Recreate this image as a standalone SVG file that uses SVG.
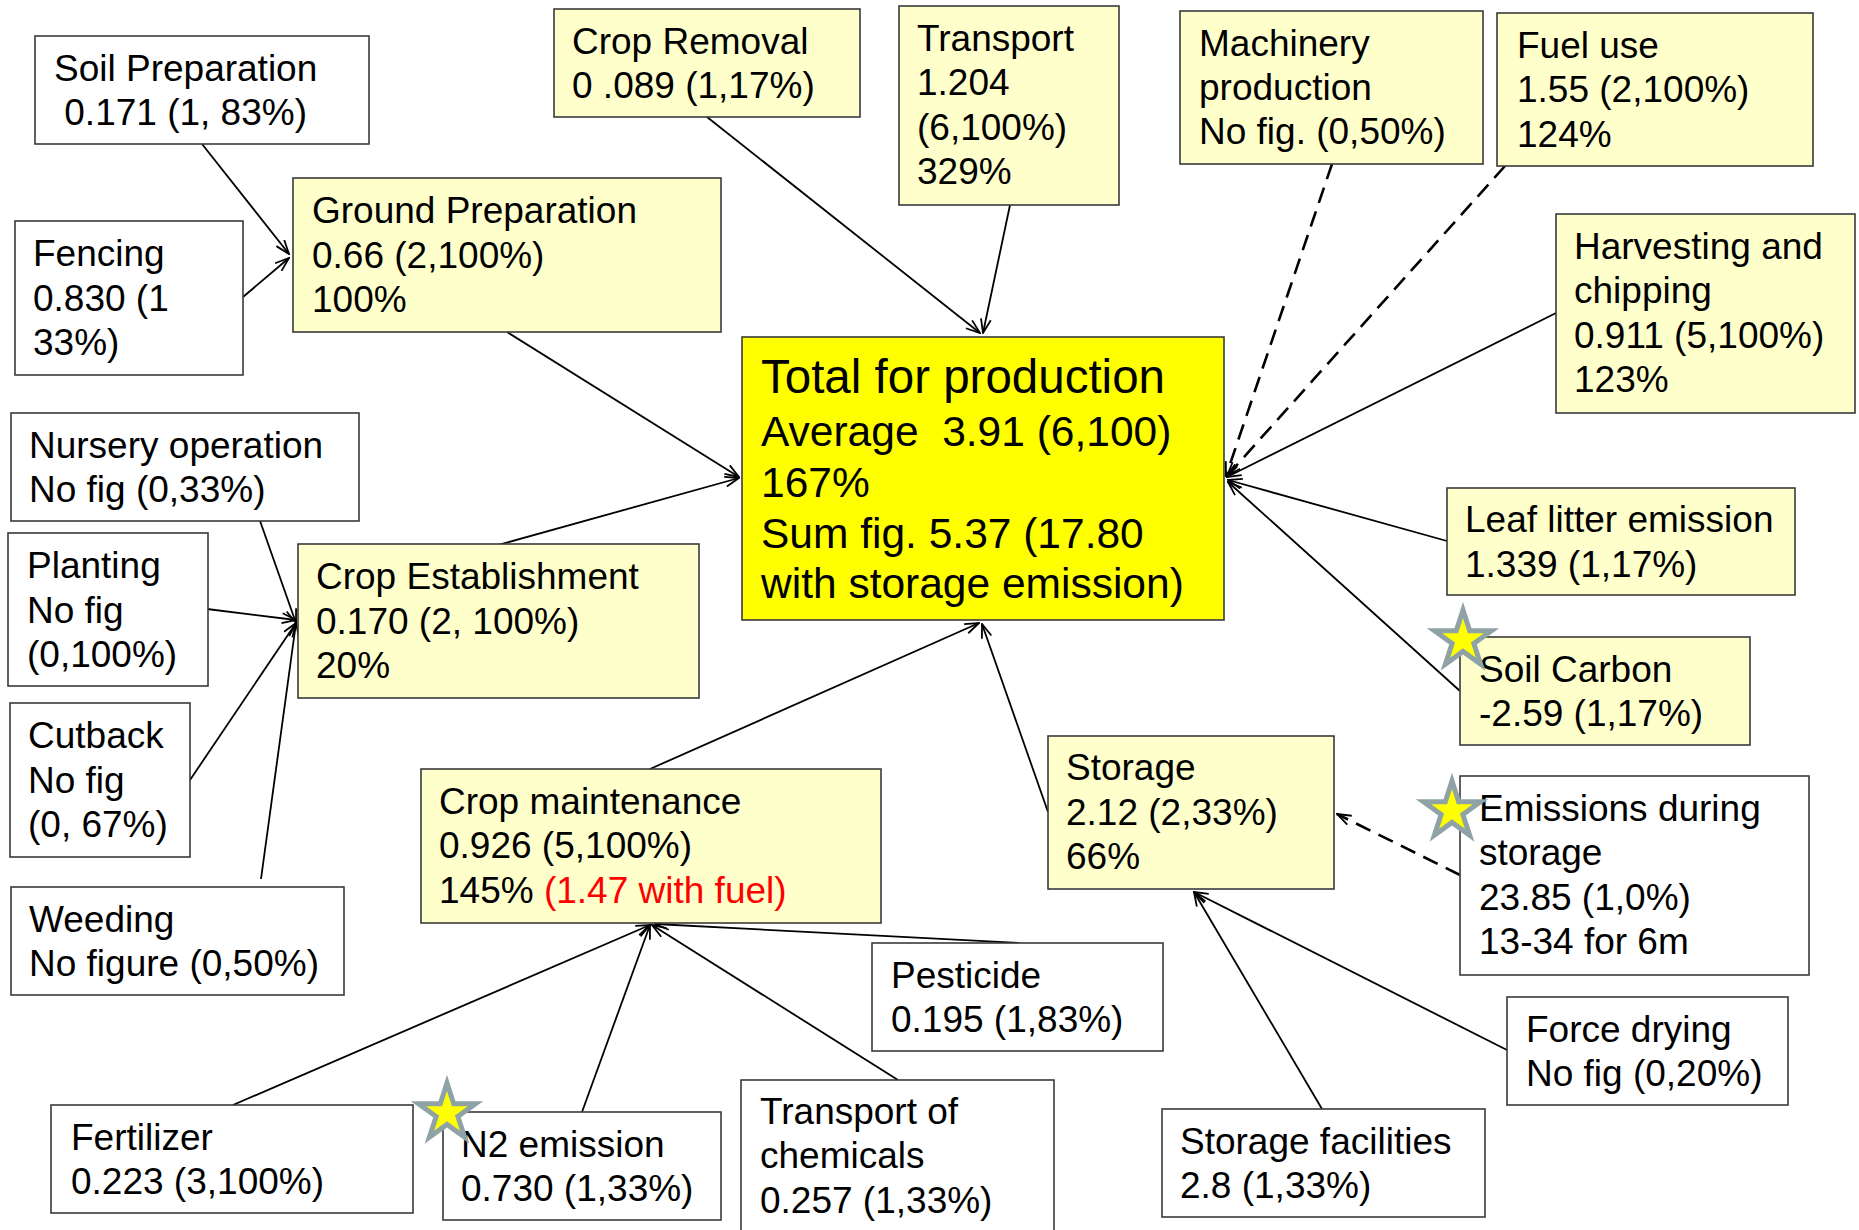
<svg xmlns="http://www.w3.org/2000/svg" width="1859" height="1230" viewBox="0 0 1859 1230">
<style>
.box{fill:#FFFFCC;stroke:#3a3a3a;stroke-width:1.6}
.wbox{fill:#FFFFFF;stroke:#3a3a3a;stroke-width:1.6}
.tbox{fill:#FFFF00;stroke:#3a3a3a;stroke-width:1.6}
text{font-family:"Liberation Sans",Arial,sans-serif;font-size:37px;fill:#000;white-space:pre}
.big{font-size:42.5px}
.title{font-size:47.5px}
.red{fill:#FF0000}
.c{fill:none;stroke:#000;stroke-width:1.8;marker-end:url(#ah)}
.d{stroke-width:2.6;stroke-dasharray:16 9}
.star{fill:#FFFF00;stroke:#8FA3A6;stroke-width:5;stroke-linejoin:miter;stroke-miterlimit:10}
</style>
<defs>
<marker id="ah" viewBox="0 0 16 12" refX="15" refY="6" markerWidth="16" markerHeight="12" markerUnits="userSpaceOnUse" orient="auto">
<path d="M1,1 L15,6 L1,11" fill="none" stroke="#000" stroke-width="1.8"/>
</marker>
<polygon id="star" points="0,-30 6.7,-9.23 28.53,-9.27 10.84,3.53 17.63,24.27 0,11.4 -17.63,24.27 -10.84,3.53 -28.53,-9.27 -6.7,-9.23"/>
</defs>
<rect width="1859" height="1230" fill="#FFFFFF"/>

<g id="connectors">
<line class="c" x1="202" y1="144" x2="289" y2="254"/>
<line class="c" x1="243" y1="297" x2="289" y2="258"/>
<line class="c" x1="507" y1="332" x2="739" y2="477"/>
<line class="c" x1="498" y1="545" x2="739" y2="478"/>
<line class="c" x1="707" y1="117" x2="980" y2="333"/>
<line class="c" x1="1010" y1="205" x2="983" y2="333"/>
<line class="c d" x1="1332" y1="164" x2="1226" y2="476"/>
<line class="c d" x1="1505" y1="166" x2="1227" y2="476"/>
<line class="c" x1="1556" y1="313" x2="1227" y2="477"/>
<line class="c" x1="1447" y1="541" x2="1228" y2="480"/>
<line class="c" x1="1460" y1="691" x2="1228" y2="482"/>
<line class="c" x1="650" y1="769" x2="979" y2="623"/>
<line class="c" x1="1048" y1="812" x2="982" y2="624"/>
<line class="c" x1="259" y1="518" x2="296" y2="623"/>
<line class="c" x1="207" y1="609" x2="296" y2="620"/>
<line class="c" x1="190" y1="780" x2="296" y2="623"/>
<line class="c" x1="261" y1="879" x2="296" y2="623"/>
<line class="c" x1="233" y1="1105" x2="650" y2="925"/>
<line class="c" x1="582" y1="1112" x2="650" y2="925"/>
<line class="c" x1="898" y1="1080" x2="652" y2="925"/>
<line class="c" x1="1019" y1="943" x2="655" y2="924"/>
<line class="c" x1="1322" y1="1109" x2="1194" y2="892"/>
<line class="c" x1="1507" y1="1050" x2="1194" y2="892"/>
<line class="c d" x1="1460" y1="875" x2="1337" y2="814"/>
</g>

<g id="soil-preparation">
<rect class="wbox" x="35" y="36" width="334" height="108"/>
<text x="54" y="81">Soil Preparation</text>
<text x="54" y="125"> 0.171 (1, 83%)</text>
</g>
<g id="fencing">
<rect class="wbox" x="15" y="221" width="228" height="154"/>
<text x="33" y="266">Fencing</text>
<text x="33" y="311">0.830 (1</text>
<text x="33" y="355">33%)</text>
</g>
<g id="crop-removal">
<rect class="box" x="554" y="9" width="306" height="108"/>
<text x="572" y="54">Crop Removal</text>
<text x="572" y="98">0 .089 (1,17%)</text>
</g>
<g id="transport">
<rect class="box" x="899" y="6" width="220" height="199"/>
<text x="917" y="51">Transport</text>
<text x="917" y="95">1.204</text>
<text x="917" y="140">(6,100%)</text>
<text x="917" y="184">329%</text>
</g>
<g id="ground-preparation">
<rect class="box" x="293" y="178" width="428" height="154"/>
<text x="312" y="223">Ground Preparation</text>
<text x="312" y="268">0.66 (2,100%)</text>
<text x="312" y="312">100%</text>
</g>
<g id="machinery-production">
<rect class="box" x="1180" y="11" width="303" height="153"/>
<text x="1199" y="56">Machinery</text>
<text x="1199" y="100">production</text>
<text x="1199" y="144">No fig. (0,50%)</text>
</g>
<g id="fuel-use">
<rect class="box" x="1497" y="13" width="316" height="153"/>
<text x="1517" y="58">Fuel use</text>
<text x="1517" y="102">1.55 (2,100%)</text>
<text x="1517" y="147">124%</text>
</g>
<g id="harvesting">
<rect class="box" x="1556" y="214" width="299" height="199"/>
<text x="1574" y="259">Harvesting and</text>
<text x="1574" y="303">chipping</text>
<text x="1574" y="348">0.911 (5,100%)</text>
<text x="1574" y="392">123%</text>
</g>
<g id="total-production">
<rect class="tbox" x="742" y="337" width="482" height="283"/>
<text class="title" x="761" y="393">Total for production</text>
<text class="big" x="761" y="446">Average  3.91 (6,100)</text>
<text class="big" x="761" y="497">167%</text>
<text class="big" x="761" y="548">Sum fig. 5.37 (17.80</text>
<text class="big" x="761" y="598">with storage emission)</text>
</g>
<g id="nursery-operation">
<rect class="wbox" x="11" y="413" width="348" height="108"/>
<text x="29" y="458">Nursery operation</text>
<text x="29" y="502">No fig (0,33%)</text>
</g>
<g id="planting">
<rect class="wbox" x="8" y="533" width="200" height="153"/>
<text x="27" y="578">Planting</text>
<text x="27" y="623">No fig</text>
<text x="27" y="667">(0,100%)</text>
</g>
<g id="crop-establishment">
<rect class="box" x="298" y="544" width="401" height="154"/>
<text x="316" y="589">Crop Establishment</text>
<text x="316" y="634">0.170 (2, 100%)</text>
<text x="316" y="678">20%</text>
</g>
<g id="cutback">
<rect class="wbox" x="10" y="703" width="180" height="154"/>
<text x="28" y="748">Cutback</text>
<text x="28" y="793">No fig</text>
<text x="28" y="837">(0, 67%)</text>
</g>
<g id="weeding">
<rect class="wbox" x="11" y="887" width="333" height="108"/>
<text x="29" y="932">Weeding</text>
<text x="29" y="976">No figure (0,50%)</text>
</g>
<g id="crop-maintenance">
<rect class="box" x="421" y="769" width="460" height="154"/>
<text x="439" y="814">Crop maintenance</text>
<text x="439" y="858">0.926 (5,100%)</text>
<text x="439" y="903">145% <tspan class="red">(1.47 with fuel)</tspan></text>
</g>
<g id="leaf-litter">
<rect class="box" x="1447" y="488" width="348" height="107"/>
<text x="1465" y="532">Leaf litter emission</text>
<text x="1465" y="577">1.339 (1,17%)</text>
</g>
<g id="soil-carbon">
<rect class="box" x="1460" y="637" width="290" height="108"/>
<text x="1479" y="682">Soil Carbon</text>
<text x="1479" y="726">-2.59 (1,17%)</text>
<use href="#star" class="star" x="1463" y="640"/>
</g>
<g id="storage">
<rect class="box" x="1048" y="736" width="286" height="153"/>
<text x="1066" y="780">Storage</text>
<text x="1066" y="825">2.12 (2,33%)</text>
<text x="1066" y="869">66%</text>
</g>
<g id="emissions-storage">
<rect class="wbox" x="1460" y="776" width="349" height="199"/>
<text x="1479" y="821">Emissions during</text>
<text x="1479" y="865">storage</text>
<text x="1479" y="910">23.85 (1,0%)</text>
<text x="1479" y="954">13-34 for 6m</text>
<use href="#star" class="star" x="1452" y="811"/>
</g>
<g id="pesticide">
<rect class="wbox" x="872" y="943" width="291" height="108"/>
<text x="891" y="988">Pesticide</text>
<text x="891" y="1032">0.195 (1,83%)</text>
</g>
<g id="force-drying">
<rect class="wbox" x="1507" y="997" width="281" height="108"/>
<text x="1526" y="1042">Force drying</text>
<text x="1526" y="1086">No fig (0,20%)</text>
</g>
<g id="fertilizer">
<rect class="wbox" x="51" y="1105" width="362" height="108"/>
<text x="71" y="1150">Fertilizer</text>
<text x="71" y="1194">0.223 (3,100%)</text>
</g>
<g id="n2-emission">
<rect class="wbox" x="443" y="1112" width="278" height="108"/>
<text x="461" y="1157">N2 emission</text>
<text x="461" y="1201">0.730 (1,33%)</text>
<use href="#star" class="star" x="447" y="1113"/>
</g>
<g id="transport-chemicals">
<rect class="wbox" x="741" y="1080" width="313" height="160"/>
<text x="760" y="1124">Transport of</text>
<text x="760" y="1168">chemicals</text>
<text x="760" y="1213">0.257 (1,33%)</text>
</g>
<g id="storage-facilities">
<rect class="wbox" x="1162" y="1109" width="323" height="108"/>
<text x="1180" y="1154">Storage facilities</text>
<text x="1180" y="1198">2.8 (1,33%)</text>
</g>
</svg>
